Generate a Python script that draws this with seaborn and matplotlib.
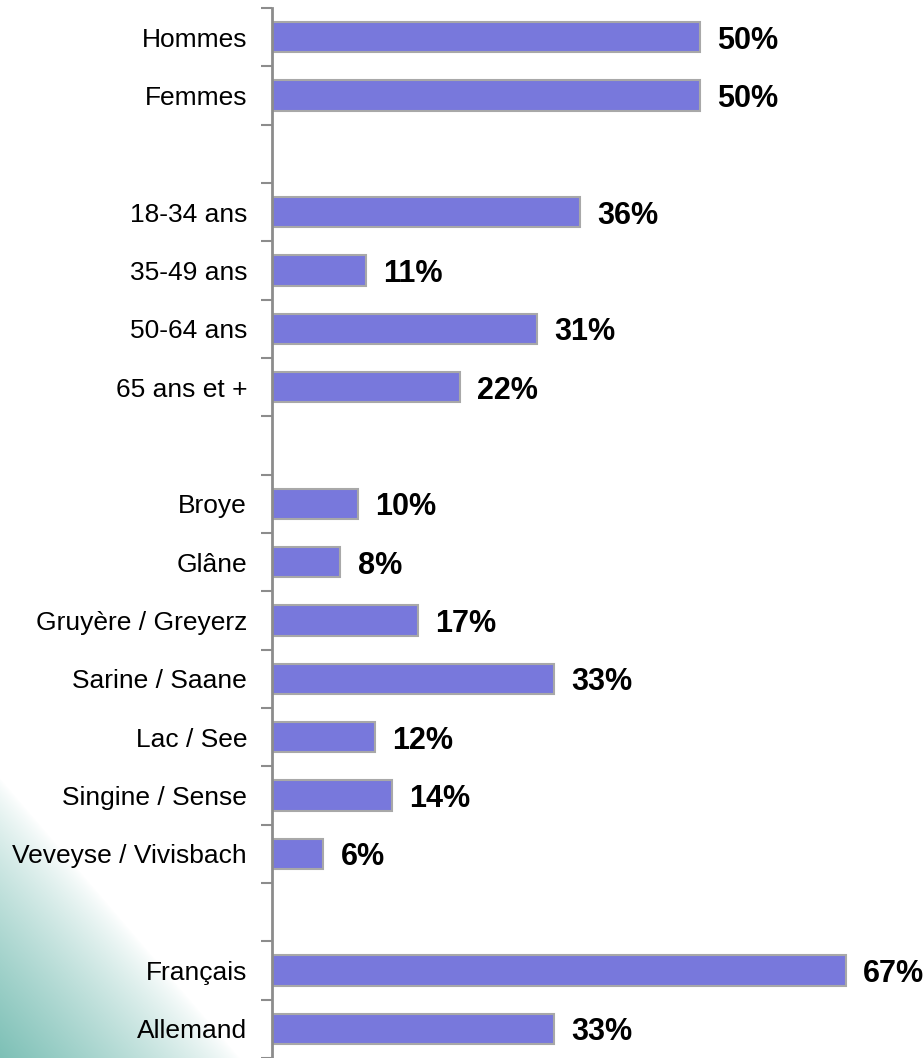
import numpy as np
import pandas as pd
import matplotlib
matplotlib.use('Agg')
import matplotlib.pyplot as plt
from matplotlib import font_manager
import seaborn as sns

# data
categories = ['Hommes', 'Femmes', ' ',
              '18-34 ans', '35-49 ans', '50-64 ans', '65 ans et +', '  ',
              'Broye', 'Glâne', 'Gruyère / Greyerz', 'Sarine / Saane', 'Lac / See',
              'Singine / Sense', 'Veveyse / Vivisbach', '   ',
              'Français', 'Allemand']
values = [50, 50, np.nan,
          36, 11, 31, 22, np.nan,
          10, 8, 17, 33, 12, 14, 6, np.nan,
          67, 33]

df = pd.DataFrame({'cat': categories, 'val': values})

sns.set_style('white')
names = {f.name for f in font_manager.fontManager.ttflist}
fam = 'Liberation Sans Narrow' if 'Liberation Sans Narrow' in names else 'Liberation Sans'
plt.rcParams['font.family'] = [fam, 'DejaVu Sans']
plt.rcParams['text.color'] = 'black'
plt.rcParams['ytick.labelcolor'] = 'black'

fig = plt.figure(figsize=(9.24, 10.58), dpi=100)

# teal gradient in bottom-left corner
bg = fig.add_axes([0, 0, 1, 1], zorder=0)
W, H = 924, 1058
xx, yy = np.meshgrid(np.arange(W), np.arange(H))
yb = H - yy
t = np.clip(1 - (xx / 240 + yb / 280), 0, 1) ** 0.8
teal = np.array([125, 192, 182]) / 255
img = np.ones((H, W, 3)) * (1 - t[..., None]) + teal * t[..., None]
bg.imshow(img, aspect='auto', extent=[0, 1, 0, 1])
bg.axis('off')

ax = fig.add_axes([272 / W, 0, 652 / W, 1050 / H], zorder=1)
ax.patch.set_alpha(0)
sns.barplot(data=df, y='cat', x='val', order=categories, orient='h',
            color='#7878dc', saturation=1, width=0.52,
            edgecolor='#a8a8a8', linewidth=1.5, ax=ax)

ax.set_xlim(0, 652 / 8.56)
ax.set_ylim(len(categories) - 0.5, -0.5)
ax.set_xlabel('')
ax.set_ylabel('')
ax.set_xticks([])
for s in ['top', 'right', 'bottom']:
    ax.spines[s].set_visible(False)
ax.spines['left'].set_color('#8c8c8c')
ax.spines['left'].set_linewidth(2)

ax.tick_params(axis='y', which='major', length=0, pad=18, labelsize=19, labelcolor='black')
ax.set_yticks(np.arange(len(categories) + 1) - 0.5, minor=True)
ax.tick_params(axis='y', which='minor', length=8, width=1.5, color='#8c8c8c', left=True)

for i, v in enumerate(values):
    if not np.isnan(v):
        ax.text(v + 2.0, i, f'{v:.0f}%', va='center_baseline', ha='left',
                fontsize=22, fontweight='bold', color='black')

fig.savefig('out.png', dpi=100)
